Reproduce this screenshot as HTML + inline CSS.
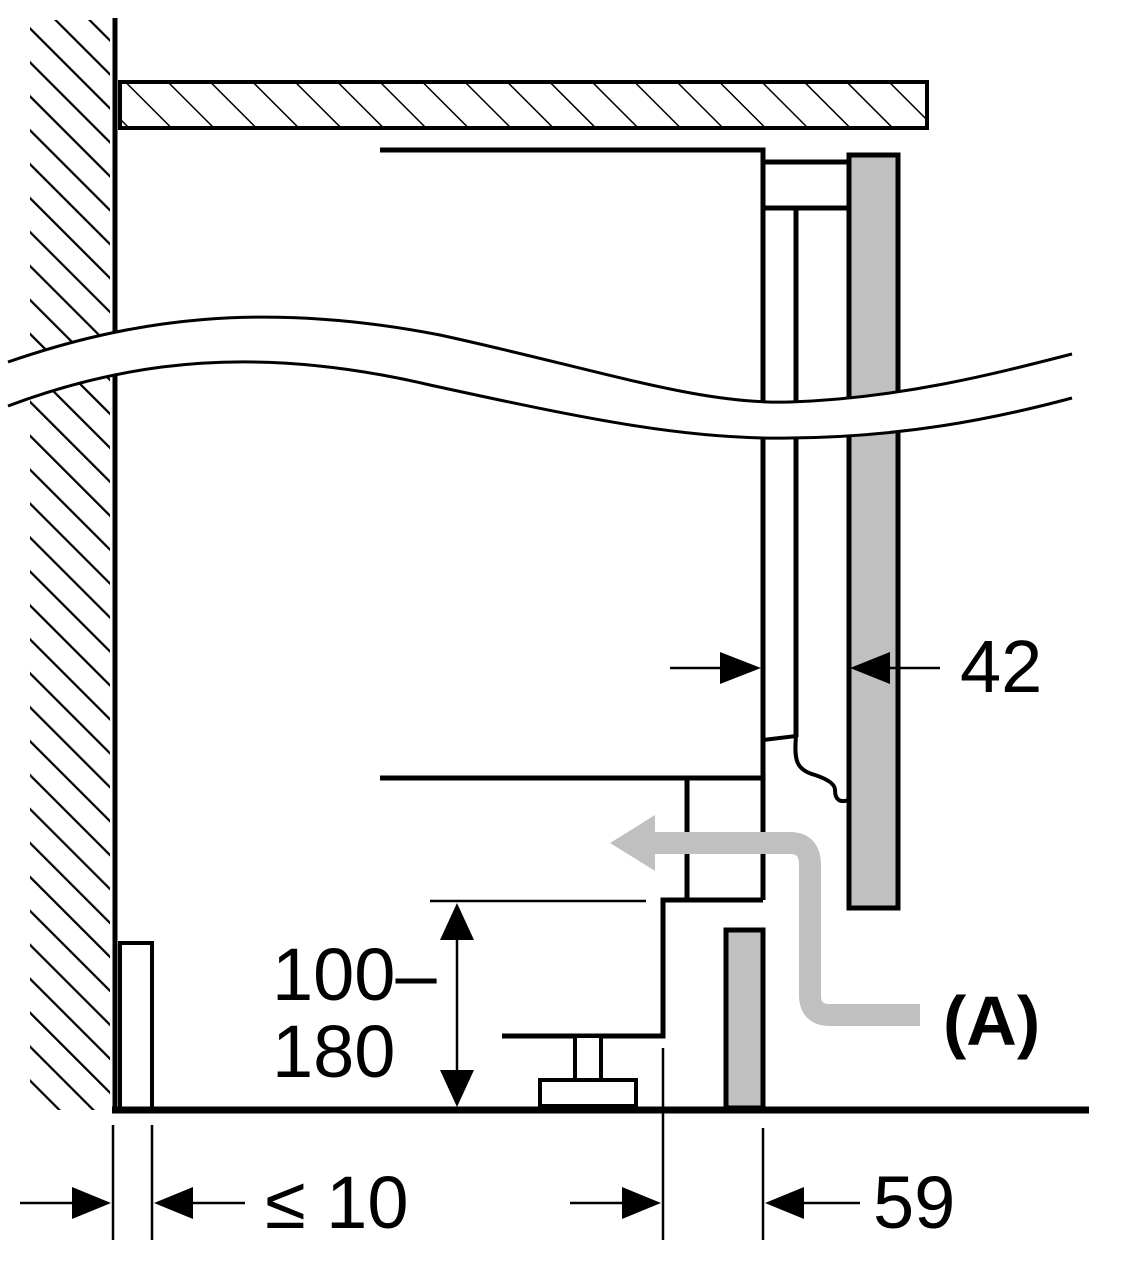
<!DOCTYPE html>
<html><head><style>body{margin:0;background:#fff}svg{display:block}</style></head><body>
<svg width="1128" height="1280" viewBox="0 0 1128 1280" xmlns="http://www.w3.org/2000/svg" font-family="Liberation Sans, sans-serif">
<defs>
<pattern id="h" patternUnits="userSpaceOnUse" width="24" height="24" patternTransform="rotate(-45)">
<line x1="0" y1="0" x2="0" y2="24" stroke="#000" stroke-width="4.5"/>
</pattern>
<pattern id="h2" patternUnits="userSpaceOnUse" width="30" height="30" patternTransform="rotate(-45)">
<line x1="0" y1="0" x2="0" y2="30" stroke="#000" stroke-width="3"/>
</pattern>
</defs>
<g stroke="#000" fill="none" stroke-width="5">
<rect x="30" y="20" width="80" height="1090" fill="url(#h)" stroke="none"/>
<line x1="115" y1="18" x2="115" y2="1112"/>
<rect x="120" y="82" width="807" height="46" fill="url(#h2)" stroke-width="4"/>
<polyline points="380,150 763,150 763,900"/>
<polyline points="763,162 847,162"/>
<polyline points="763,208 847,208"/>
<line x1="796" y1="208" x2="796" y2="737"/>
<rect x="849" y="155" width="49" height="753" fill="#c0c0c0"/>
<path d="M763,740 L796,736 C794,760 796,770 815,775 C830,780 835,785 835,790 C835,800 840,803 849,800" stroke-width="4"/>
<line x1="380" y1="778" x2="763" y2="778"/>
<line x1="687" y1="778" x2="687" y2="900"/>
<polyline points="763,900 663,900 663,1036 502,1036" />
<rect x="575" y="1036" width="26" height="44" fill="#fff" stroke-width="4"/>
<rect x="540" y="1080" width="96" height="26" fill="#fff" stroke-width="4"/>
<rect x="726" y="930" width="37" height="178" fill="#c0c0c0"/>
<rect x="120" y="943" width="32" height="167" stroke-width="4"/>
<line x1="112" y1="1110" x2="1089" y2="1110" stroke-width="7"/>
</g>
<path d="M0,365 C130,320 260,300 440,335 C600,370 700,405 790,402 C900,398 990,375 1080,352 L1080,398 C990,420 900,437 790,438 C690,440 590,420 430,385 C260,345 130,360 0,410 Z" fill="#fff" stroke="none"/>
<path d="M8,362 C130,320 260,300 440,335 C600,370 700,405 790,402 C900,398 990,375 1072,354" fill="none" stroke="#000" stroke-width="3"/>
<path d="M8,406 C130,360 260,345 430,385 C590,420 690,440 790,438 C900,437 990,420 1072,398" fill="none" stroke="#000" stroke-width="3"/>
<path d="M920,1015 L830,1015 Q810,1015 810,995 L810,865 Q810,843 790,843 L650,843" fill="none" stroke="#c0c0c0" stroke-width="22"/>
<polygon points="610,843 655,815 655,871" fill="#c0c0c0"/>
<g stroke="#000" stroke-width="2.5" fill="none">
<line x1="430" y1="901" x2="646" y2="901"/>
<line x1="457" y1="930" x2="457" y2="1080"/>
<line x1="670" y1="668" x2="725" y2="668"/>
<line x1="890" y1="668" x2="940" y2="668"/>
<line x1="113" y1="1125" x2="113" y2="1240"/>
<line x1="152" y1="1125" x2="152" y2="1240"/>
<line x1="20" y1="1203" x2="75" y2="1203"/>
<line x1="190" y1="1203" x2="245" y2="1203"/>
<line x1="663" y1="1048" x2="663" y2="1240"/>
<line x1="763" y1="1128" x2="763" y2="1240"/>
<line x1="570" y1="1203" x2="625" y2="1203"/>
<line x1="800" y1="1203" x2="860" y2="1203"/>
</g>
<g fill="#000">
<polygon points="457,903 440,940 474,940"/>
<polygon points="457,1107 440,1070 474,1070"/>
<polygon points="761,668 720,652 720,684"/>
<polygon points="850,668 890,652 890,684"/>
<polygon points="111,1203 72,1187 72,1219"/>
<polygon points="154,1203 193,1187 193,1219"/>
<polygon points="661,1203 622,1187 622,1219"/>
<polygon points="765,1203 804,1187 804,1219"/>
</g>
<g font-size="74" fill="#000">
<text x="960" y="692">42</text>
<text x="272" y="1000">100–</text>
<text x="272" y="1077">180</text>
<text x="265" y="1228">≤ 10</text>
<text x="873" y="1228">59</text>
<text x="943" y="1045" font-weight="bold" font-size="70">(A)</text>
</g>
</svg>
</body></html>
